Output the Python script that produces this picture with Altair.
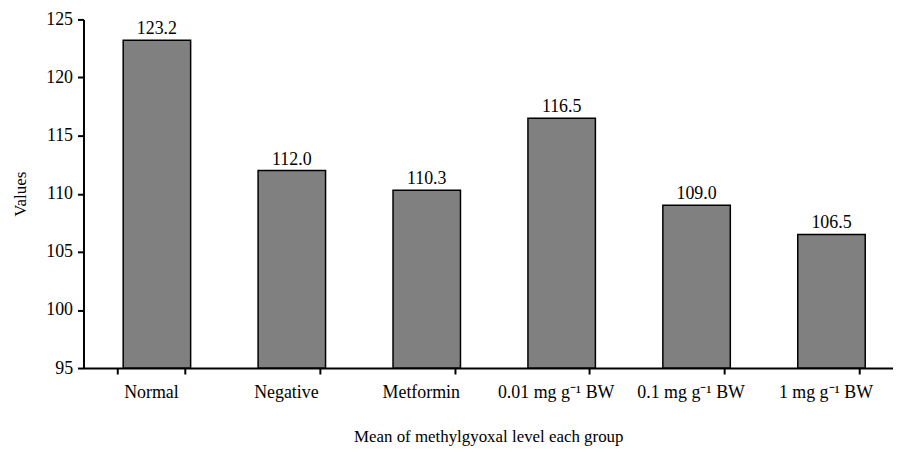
import altair as alt
import pandas as pd

groups = ["Normal", "Negative", "Metformin", "0.01 mg g⁻¹ BW", "0.1 mg g⁻¹ BW", "1 mg g⁻¹ BW"]
values = [123.2, 112.0, 110.3, 116.5, 109.0, 106.5]
baseline = 95

df = pd.DataFrame({"group": groups, "value": values, "base": [baseline] * len(groups)})

FONT = "Liberation Serif"

x = alt.X("group:N", sort=groups,
          scale=alt.Scale(paddingInner=0.5, paddingOuter=0.25),
          axis=alt.Axis(title="Mean of methylgyoxal level each group", labelAngle=0,
                        tickBand="extent", tickSize=6, tickWidth=2, tickColor="black",
                        domainColor="black", domainWidth=2, labelColor="black",
                        labelFontSize=18, labelFont=FONT, labelPadding=10,
                        titleFont=FONT, titleFontSize=17, titleFontWeight="normal",
                        titleColor="black", titlePadding=27))

y = alt.Y("value:Q", scale=alt.Scale(domain=[95, 125], zero=False, nice=False),
          axis=alt.Axis(title="Values", values=[95, 100, 105, 110, 115, 120, 125],
                        grid=False, tickSize=6, tickWidth=2, tickColor="black",
                        domainColor="black", domainWidth=2, labelColor="black",
                        labelFontSize=18, labelFont=FONT, labelPadding=5,
                        titleFont=FONT, titleFontSize=17, titleFontWeight="normal",
                        titleColor="black", titlePadding=16))

bars = alt.Chart(df).mark_bar(color="#808080", stroke="black", strokeWidth=1.5, xOffset=6).encode(
    x=x, y=y, y2="base:Q"
)

labels = alt.Chart(df).mark_text(font=FONT, fontSize=18, color="black", baseline="bottom",
                                 dy=-2, xOffset=6).encode(
    x=alt.X("group:N", sort=groups),
    y=alt.Y("value:Q"),
    text=alt.Text("value:Q", format=".1f")
)

chart = alt.layer(bars, labels).properties(
    width=815, height=351, padding={"left": 76, "top": 10, "right": 0, "bottom": 80},
    autosize=alt.AutoSizeParams(type="none"), background="white"
).configure_view(strokeWidth=0).configure_axis(grid=False)

chart.save("out.html", embed_options={"renderer": "svg", "actions": False})
